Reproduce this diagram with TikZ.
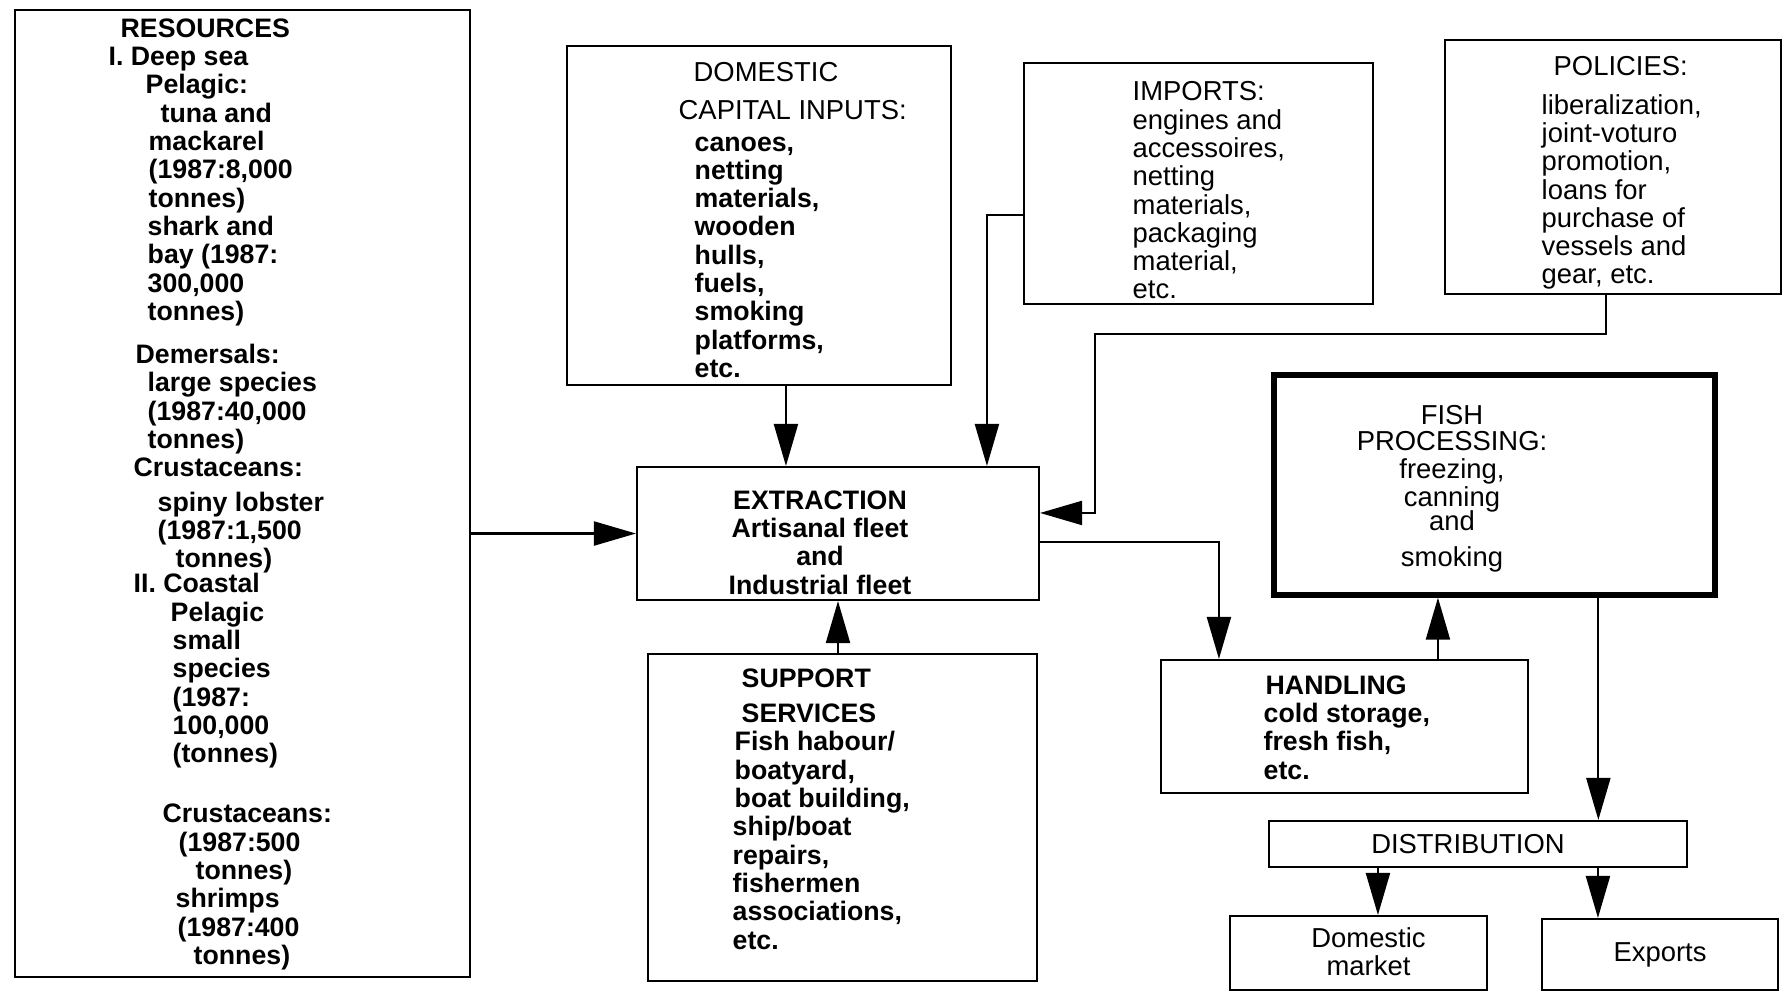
\documentclass[tikz,border=0pt]{standalone}
\usepackage{fontspec}
\setmainfont{Liberation Sans}
\usetikzlibrary{arrows.meta,positioning,calc,fit}

\begin{document}
\begin{tikzpicture}[x=0.1mm,y=-0.1mm,>={Triangle[length=4.2mm,width=2.4mm]},
  box/.style={draw,line width=0.6pt,inner sep=0pt},
  heavy/.style={box,line width=1.5pt},
  txt/.style={inner sep=0pt,align=left,anchor=north west,font={\fontsize{7.8}{8.05}\selectfont}},
  btxt/.style={txt,font={\bfseries\fontsize{7.6}{8.05}\selectfont}},
  ctxt/.style={txt,align=center,anchor=center},
  flow/.style={->,line width=0.6pt}]
  \path[use as bounding box,fill=white] (0,0) rectangle (1784,991);
  % boxes (scan geometry, px units)
  \node[box,fit={(15,10) (470,977)}] (res) {};
  \node[box,fit={(567,46) (951,385)}] (dom) {};
  \node[box,fit={(1024,63) (1373,304)}] (imp) {};
  \node[box,fit={(1445,40) (1781,294)}] (pol) {};
  \node[box,fit={(637,467) (1039,600)}] (ext) {};
  \node[box,fit={(648,654) (1037,981)}] (sup) {};
  \node[heavy,fit={(1274,375) (1715,595)}] (fp) {};
  \node[box,fit={(1161,660) (1528,793)}] (hand) {};
  \node[box,fit={(1269,821) (1687,867)}] (dist) {};
  \node[box,fit={(1230,916) (1487,990)}] (market) {};
  \node[box,fit={(1542,919) (1778,990)}] (exports) {};
  % texts
  \node[btxt] (restext) at (108,18) {\hspace*{1.2mm}RESOURCES\\
    I. Deep sea\\
    \hspace*{3.7mm}Pelagic:\\
    \hspace*{5.2mm}tuna and\\
    \hspace*{4mm}mackarel\\
    \hspace*{4mm}(1987:8,000\\
    \hspace*{4mm}tonnes)\\
    \hspace*{3.9mm}shark and\\
    \hspace*{3.9mm}bay (1987:\\
    \hspace*{3.9mm}300,000\\
    \hspace*{3.9mm}tonnes)\\[1.5mm]
    \hspace*{2.7mm}Demersals:\\
    \hspace*{3.9mm}large species\\
    \hspace*{3.9mm}(1987:40,000\\
    \hspace*{3.9mm}tonnes)\\
    \hspace*{2.5mm}Crustaceans:\\[0.6mm]
    \hspace*{4.9mm}spiny lobster\\
    \hspace*{4.9mm}(1987:1,500\\
    \hspace*{6.7mm}tonnes)\\[-0.3mm]
    \hspace*{2.5mm}II. Coastal\\
    \hspace*{6.2mm}Pelagic\\
    \hspace*{6.4mm}small\\
    \hspace*{6.4mm}species\\
    \hspace*{6.4mm}(1987:\\
    \hspace*{6.4mm}100,000\\
    \hspace*{6.4mm}(tonnes)\\[3.2mm]
    \hspace*{5.4mm}Crustaceans:\\
    \hspace*{7mm}(1987:500\\
    \hspace*{8.7mm}tonnes)\\
    \hspace*{6.7mm}shrimps\\
    \hspace*{6.9mm}(1987:400\\
    \hspace*{8.5mm}tonnes)};
  \node[txt] (domhead) at (678,62) {\hspace*{1.5mm}DOMESTIC\\[0.9mm]CAPITAL INPUTS:};
  \node[btxt] (domtext) at (694,136) {canoes,\\netting\\materials,\\wooden\\hulls,\\fuels,\\smoking\\platforms,\\etc.};
  \node[txt] (imptext) at (1132,81) {IMPORTS:\\engines and\\accessoires,\\netting\\materials,\\packaging\\material,\\etc.};
  \node[txt] (poltext) at (1541,56) {\hspace*{1.2mm}POLICIES:\\[1mm]liberalization,\\joint-voturo\\promotion,\\loans for\\purchase of\\vessels and\\gear, etc.};
  \node[btxt,align=center,anchor=north] (exttext) at (820,490) {EXTRACTION\\Artisanal fleet\\and\\Industrial fleet};
  \node[btxt] (suptext) at (732,668) {\hspace*{0.9mm}SUPPORT\\[0.7mm]\hspace*{0.9mm}SERVICES\\
    \hspace*{0.2mm}Fish habour/\\\hspace*{0.2mm}boatyard,\\\hspace*{0.2mm}boat building,\\ship/boat\\repairs,\\fishermen\\associations,\\etc.};
  \node[btxt] (handtext) at (1263,675) {\hspace*{0.2mm}HANDLING\\cold storage,\\fresh fish,\\etc.};
  \node[txt,align=center,anchor=north] (fptext) at (1452,405) {FISH\\[-0.3mm]PROCESSING:\\freezing,\\canning\\[-0.5mm]and\\[0.8mm]smoking};
  \node[ctxt] (disttext) at ($(dist.center)+(-10,0)$) {DISTRIBUTION};
  \node[ctxt] (markettext) at ($(market.center)+(10,-1)$) {Domestic\\market};
  \node[ctxt] (exportstext) at (exports.center) {Exports};
  % connectors
  \coordinate (dTap) at ($(dom.south west)+(220,0)$);
  \draw[flow] (dTap) -- (dTap |- ext.north);
  \coordinate (iTap) at ($(imp.north west)+(0,153)$);
  \draw[flow] (iTap) -| ($(ext.north west)+(351,0)$);
  \coordinate (pTap) at ($(pol.south west)+(162,0)$);
  \coordinate (pBend) at (1095,334);
  \draw[flow] (pTap) |- (pBend) |- ($(ext.north east)+(0,47)$);
  \draw[flow] (res.east |- ext.west) -- (ext.west);
  \draw[flow] (ext.south |- sup.north) -- (ext.south);
  \draw[flow] ($(ext.north east)+(0,76)$) -| ($(hand.north west)+(59,0)$);
  \coordinate (hTap) at ($(hand.north west)+(278,0)$);
  \draw[flow] (hTap) -- (hTap |- fp.south);
  \coordinate (fTap) at ($(fp.south west)+(327,0)$);
  \draw[flow] (fTap) -- (fTap |- dist.north);
  \coordinate (mTap) at ($(market.north west)+(149,0)$);
  \draw[flow] (mTap |- dist.south) -- (mTap);
  \coordinate (eTap) at ($(exports.north west)+(57,0)$);
  \draw[flow] (eTap |- dist.south) -- (eTap);
\end{tikzpicture}
\end{document}
